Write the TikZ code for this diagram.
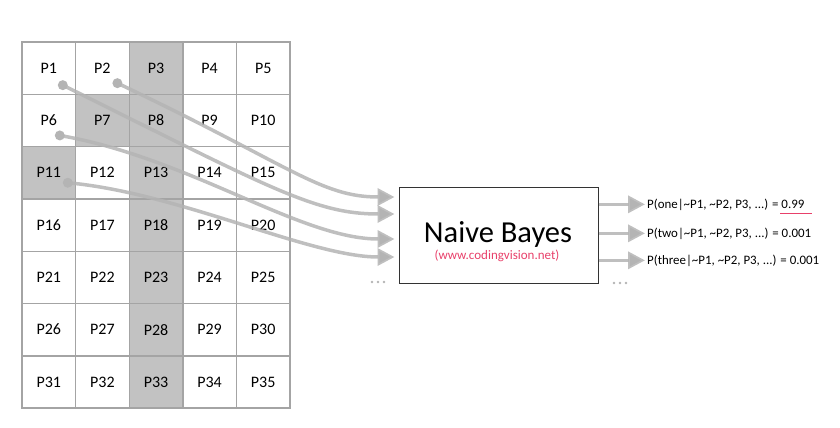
\documentclass[tikz,border=0pt]{standalone}
\usepackage{fontspec}
\setmainfont{Carlito}
\usetikzlibrary{arrows.meta}

\definecolor{gridline}{HTML}{A4A4A4}
\definecolor{shade}{HTML}{C2C2C2}
\definecolor{flow}{HTML}{B4B4B4}
\definecolor{linkred}{HTML}{E8406A}

\tikzset{
  cell/.style={draw=gridline, line width=1.4pt, minimum width=53.6pt,
    minimum height=52.3pt, inner sep=0pt, font=\fontsize{16}{19}\selectfont},
  flowline/.style={draw=flow, line width=3.5pt, draw opacity=0.85, -{Triangle[length=17pt,width=17pt]}},
  outtext/.style={anchor=base west, inner sep=2pt, font=\fontsize{12.9}{15}\selectfont},
}

\begin{document}
\begin{tikzpicture}[x=1pt,y=-1pt]
\useasboundingbox (0,0) rectangle (840,428);

% pixel grid
\foreach \r in {0,...,6}
  \foreach \c in {1,...,5} {
    \pgfmathtruncatemacro{\n}{5*\r+\c}
    \def\cellfill{white}
    \ifnum\c=3 \def\cellfill{shade}\fi
    \ifnum\n=7 \def\cellfill{shade}\fi
    \ifnum\n=11 \def\cellfill{shade}\fi
    \node[cell, fill=\cellfill] (p\n) at ({48.8+53.6*(\c-1)}, {68.15+52.3*\r}) {P\n};
  }

% classifier
\node[draw=black!80, line width=1pt, minimum width=199pt, minimum height=96pt] (nb) at (498.5,235) {};
\node[anchor=base, inner sep=0pt, text depth=0pt, font=\fontsize{30.5}{34}\selectfont] (title) at (498,242) {Naive Bayes};
\node[anchor=base, inner sep=0pt, text height=7pt, text=linkred, font=\fontsize{13}{15}\selectfont] (url) at (497,259.2) {(www.codingvision.net)};

% inputs
\coordinate (s1) at ([shift={(14,17)}]p1.center);
\coordinate (s2) at ([shift={(15,15)}]p2.center);
\coordinate (s6) at ([shift={(11,15)}]p6.center);
\coordinate (s11) at ([shift={(19,10)}]p11.center);
\coordinate (in1) at ([shift={(-4,-38)}]nb.west);
\coordinate (in2) at ([shift={(-4,-21)}]nb.west);
\coordinate (in3) at ([shift={(-4,4)}]nb.west);
\coordinate (in4) at ([shift={(-4,22)}]nb.west);

\draw[flowline] (s2) .. controls (290,165) and (320,197) .. (in1);
\draw[flowline] (s1) .. controls (270,188) and (315,214) .. (in2);
\draw[flowline] (s6) .. controls (190,158) and (300,239) .. (in3);
\draw[flowline] (s11) .. controls (180,193) and (310,257) .. (in4);
\foreach \s in {s1,s2,s6,s11}
  \fill[flow] (\s) circle (5);
\foreach \x in {372,378,384}
  \fill[flow] (\x,282) circle (1.3);

% outputs
\node[outtext] (r1) at (645,208) {P(one|\textasciitilde P1, \textasciitilde P2, P3, ...) = 0.99};
\node[outtext] (r2) at (645,237) {P(two|\textasciitilde P1, \textasciitilde P2, P3, ...) = 0.001};
\node[outtext] (r3) at (645,264) {P(three|\textasciitilde P1, \textasciitilde P2, P3, ...) = 0.001};
\foreach \r in {r1,r2,r3}
  \draw[flowline] (nb.east |- \r.west) -- (\r.west);
\fill[linkred] (780,212.8) rectangle (812,214.2);
\foreach \x in {614,620,626}
  \fill[flow] (\x,283) circle (1.3);

\end{tikzpicture}
\end{document}
